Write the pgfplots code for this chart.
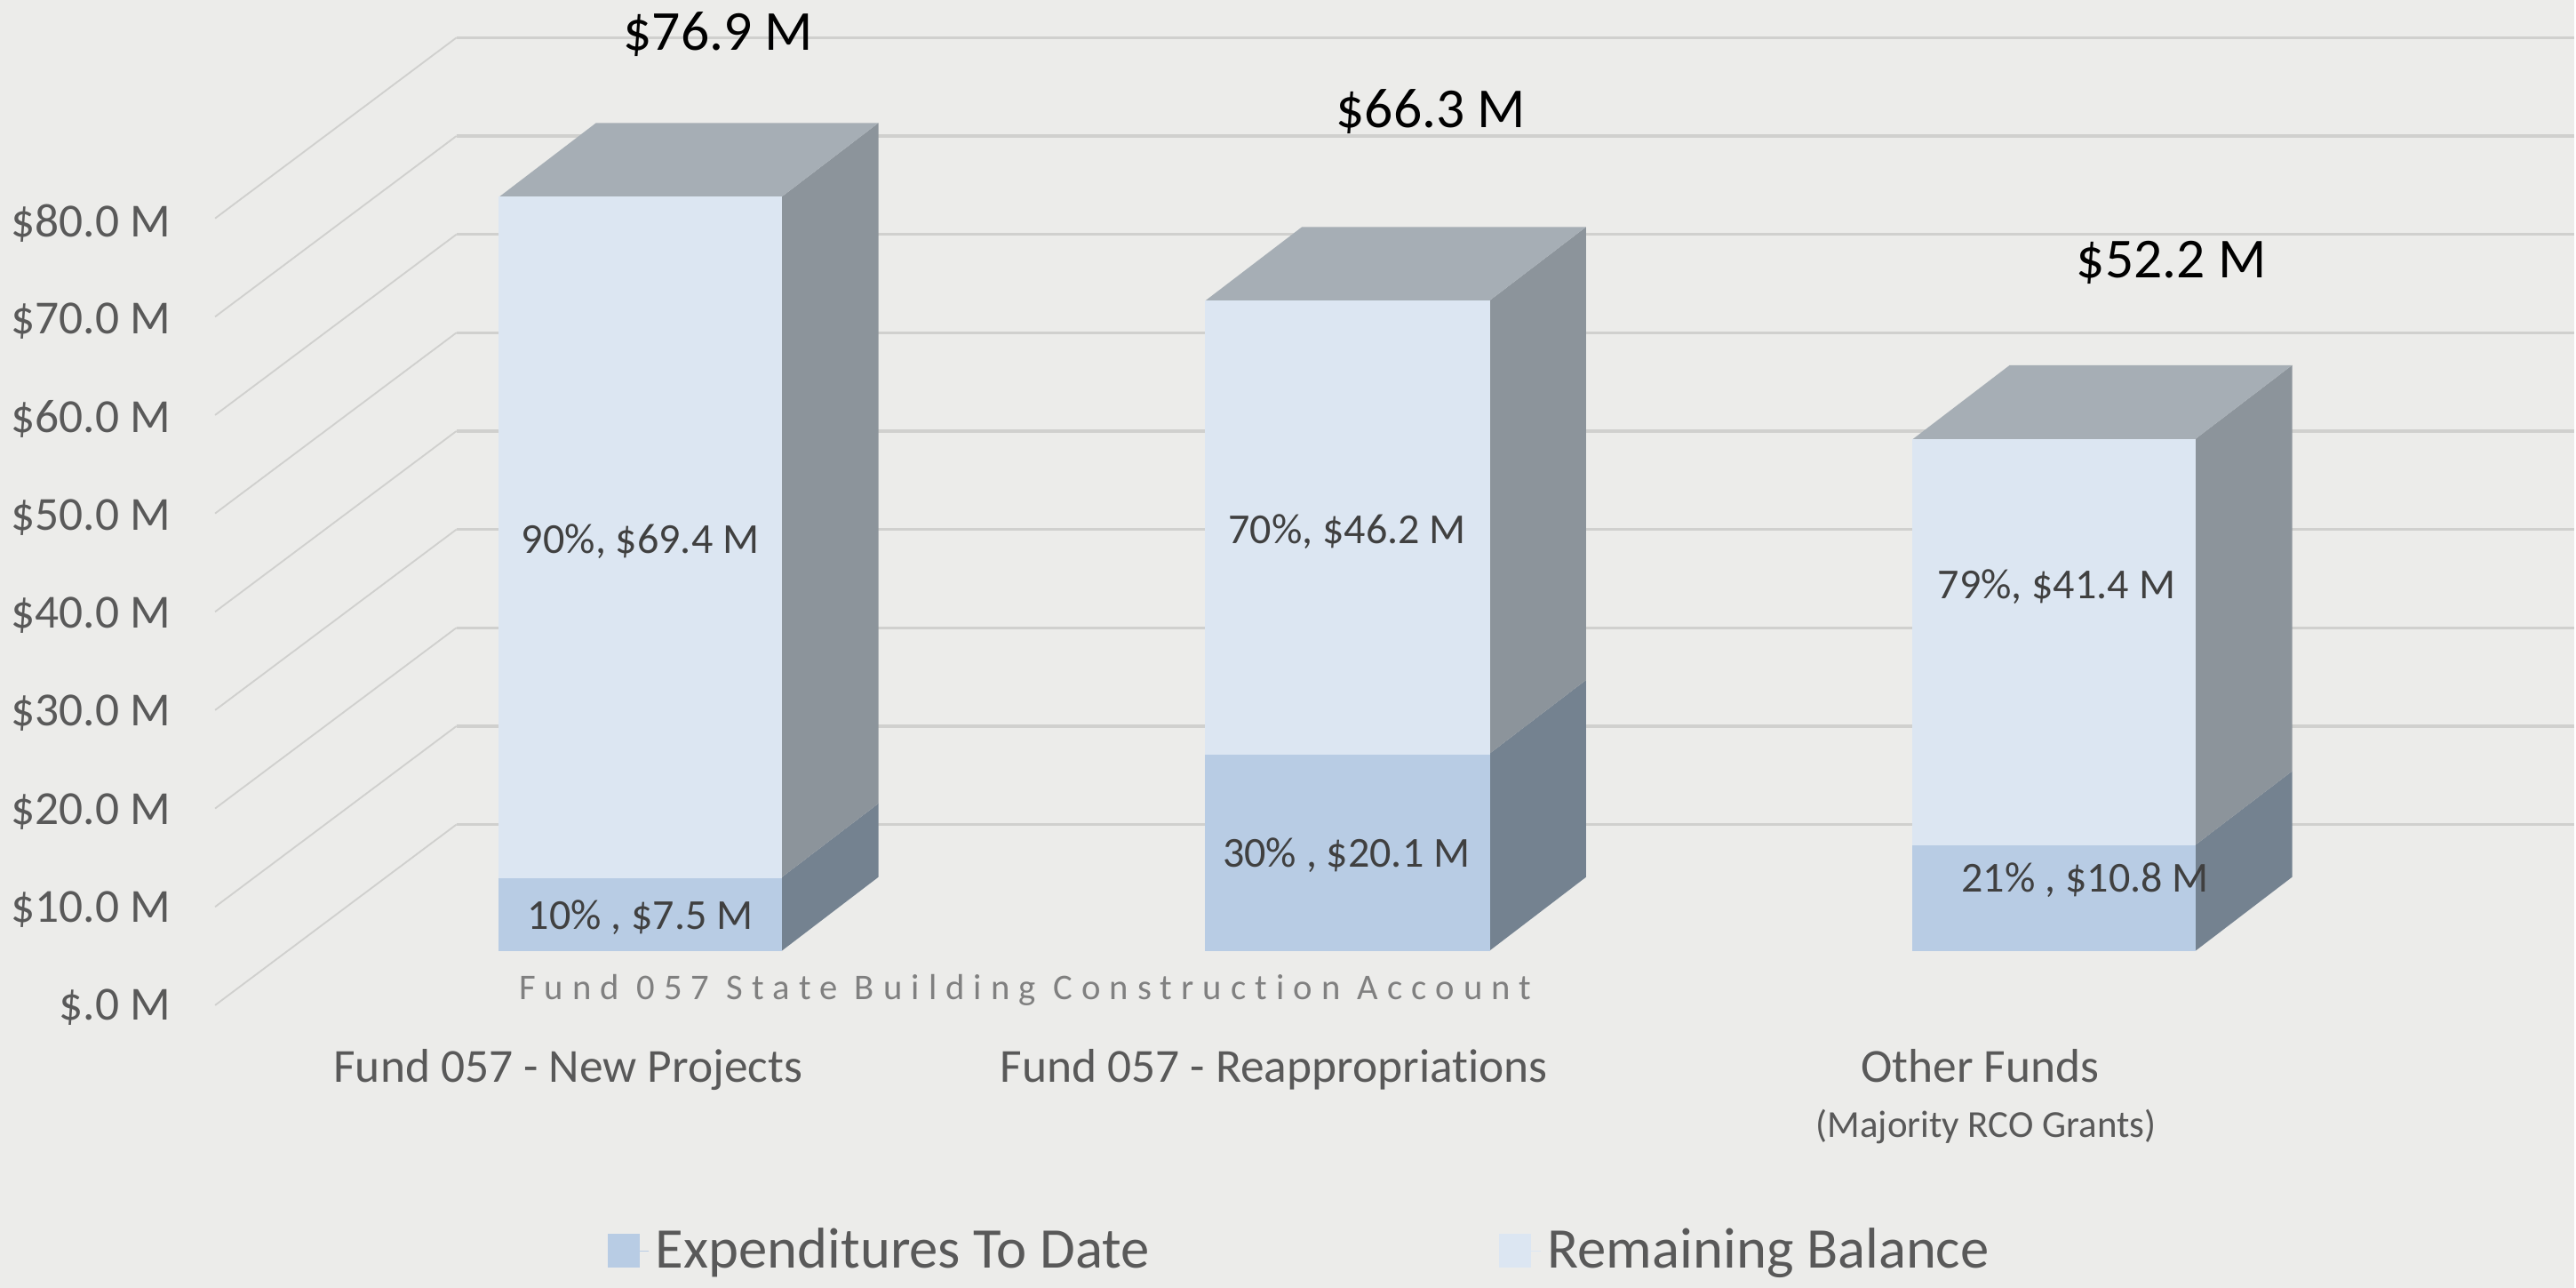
\documentclass[border=0pt]{standalone}
\usepackage{fontspec}
\setmainfont{Carlito}[Ligatures=NoCommon]
\usepackage{pgfplots}
\pgfplotsset{compat=1.18}
\definecolor{bgc}{HTML}{ECECEA}
\definecolor{gridc}{HTML}{D0D0CE}
\definecolor{expf}{HTML}{B8CCE4}
\definecolor{remf}{HTML}{DCE6F2}
\definecolor{exps}{HTML}{748290}
\definecolor{rems}{HTML}{8C949B}
\definecolor{topc}{HTML}{A6AEB5}
\definecolor{tickc}{HTML}{595959}
\definecolor{datac}{HTML}{404040}
\pgfplotsset{
  hl/.style={forget plot,gridc,line width=0.9pt},
  sl/.style={forget plot,gridc,line width=0.5pt},
  fc/.style={fill=#1,draw=#1,line width=0.2pt},
  sf/.style={forget plot,fill=#1,draw=none},
}
\begin{document}
\begin{tikzpicture}
\begin{axis}[
  scale only axis,width=784pt,height=392pt,
  xmin=0,xmax=1568,ymin=-34.34,ymax=96.98,
  clip=false,
  axis background/.style={fill=bgc},
  axis line style={draw=none},
  tick style={draw=none},major tick length=0pt,
  ytick={0,10,20,30,40,50,60,70,80},
  yticklabels={\$.0 M,\$10.0 M,\$20.0 M,\$30.0 M,\$40.0 M,\$50.0 M,\$60.0 M,\$70.0 M,\$80.0 M},
  yticklabel style={font=\fontsize{14.45}{16}\selectfont,text=tickc,anchor=east,xshift=52pt,yshift=-17.2pt,inner sep=0pt,outer sep=0pt},
  xtick={346,776,1206},
  xticklabels={Fund 057 - New Projects,Fund 057 - Reappropriations,Other Funds},
  xticklabel style={font=\fontsize{14.45}{16}\selectfont,text=tickc,anchor=base,yshift=62.5pt,inner sep=0pt,outer sep=0pt},
  legend columns=2,
  legend style={at={(370/1568,22.5/784)},anchor=west,draw=none,fill=none,inner sep=0pt,outer sep=0pt,
    font=\fontsize{17.5}{20}\selectfont,text=tickc,
    /tikz/every even column/.append style={column sep=104.5pt}},
  legend image code/.code={\fill[#1] (0pt,-5pt) rectangle (9.5pt,5pt);\path (0pt,0pt) -- (12.5pt,0pt);},
  legend cell align=left,
]
% depth gridlines (value axis wall)
\addplot[sl] coordinates {(131,-5.53) (278,12.90)};
\addplot[sl] coordinates {(131,4.50) (278,22.93)};
\addplot[sl] coordinates {(131,14.53) (278,32.96)};
\addplot[sl] coordinates {(131,24.56) (278,42.99)};
\addplot[sl] coordinates {(131,34.59) (278,53.02)};
\addplot[sl] coordinates {(131,44.62) (278,63.05)};
\addplot[sl] coordinates {(131,54.65) (278,73.08)};
\addplot[sl] coordinates {(131,64.68) (278,83.11)};
\addplot[sl] coordinates {(131,74.71) (278,93.14)};
\addplot[hl] coordinates {(278,12.90) (1568,12.90)};
\addplot[hl] coordinates {(278,22.93) (1568,22.93)};
\addplot[hl] coordinates {(278,32.96) (1568,32.96)};
\addplot[hl] coordinates {(278,42.99) (1568,42.99)};
\addplot[hl] coordinates {(278,53.02) (1568,53.02)};
\addplot[hl] coordinates {(278,63.05) (1568,63.05)};
\addplot[hl] coordinates {(278,73.08) (1568,73.08)};
\addplot[hl] coordinates {(278,83.11) (1568,83.11)};
\addplot[hl] coordinates {(278,93.14) (1568,93.14)};
% bar 1
\addplot[sf=exps] coordinates {(476,0) (535,7.54) (535,15.04) (476,7.5)} --cycle;
\addplot[sf=rems] coordinates {(476,7.5) (535,15.04) (535,84.44) (476,76.9)} --cycle;
\addplot[sf=topc] coordinates {(304,76.9) (476,76.9) (535,84.44) (363,84.44)} --cycle;
\addplot[fc=expf] coordinates {(304,0) (476,0) (476,7.5) (304,7.5)} --cycle;
\addlegendentry{Expenditures To Date}
\addplot[fc=remf] coordinates {(304,7.5) (476,7.5) (476,76.9) (304,76.9)} --cycle;
\addlegendentry{Remaining Balance}
% bar 2
\addplot[sf=exps] coordinates {(907,0) (966,7.54) (966,27.64) (907,20.1)} --cycle;
\addplot[sf=rems] coordinates {(907,20.1) (966,27.64) (966,73.84) (907,66.3)} --cycle;
\addplot[sf=topc] coordinates {(734,66.3) (907,66.3) (966,73.84) (793,73.84)} --cycle;
\addplot[forget plot,fc=expf] coordinates {(734,0) (907,0) (907,20.1) (734,20.1)} --cycle;
\addplot[forget plot,fc=remf] coordinates {(734,20.1) (907,20.1) (907,66.3) (734,66.3)} --cycle;
% bar 3
\addplot[sf=exps] coordinates {(1337,0) (1396,7.54) (1396,18.34) (1337,10.8)} --cycle;
\addplot[sf=rems] coordinates {(1337,10.8) (1396,18.34) (1396,59.74) (1337,52.2)} --cycle;
\addplot[sf=topc] coordinates {(1165,52.2) (1337,52.2) (1396,59.74) (1224,59.74)} --cycle;
\addplot[forget plot,fc=expf] coordinates {(1165,0) (1337,0) (1337,10.8) (1165,10.8)} --cycle;
\addplot[forget plot,fc=remf] coordinates {(1165,10.8) (1337,10.8) (1337,52.2) (1165,52.2)} --cycle;
% data labels
\begin{scope}[every node/.style={font=\fontsize{13}{15}\selectfont,text=datac,inner sep=0pt}]
\node at (axis cs:390,41.8) {90\%, \$69.4 M};
\node at (axis cs:390,3.37) {10\% , \$7.5 M};
\node at (axis cs:820.5,42.72) {70\%, \$46.2 M};
\node at (axis cs:820,9.72) {30\% , \$20.1 M};
\node at (axis cs:1252.5,37.17) {79\%, \$41.4 M};
\node at (axis cs:1270,7.21) {21\% , \$10.8 M};
\end{scope}
\begin{scope}[every node/.style={font=\fontsize{17.2}{20}\selectfont,text=black,inner sep=0pt}]
\node at (axis cs:437.5,93.47) {\$76.9 M};
\node at (axis cs:871.5,85.57) {\$66.3 M};
\node at (axis cs:1322.5,70.17) {\$52.2 M};
\end{scope}
\node[inner sep=0pt,text=gray,font=\fontsize{11}{13}\selectfont\addfontfeatures{LetterSpace=24.9}] at (axis cs:624.5,-4.02) {Fund 057 State Building Construction Account};
\node[inner sep=0pt,text=tickc,font=\fontsize{11.6}{13}\selectfont] at (axis cs:1209.5,-17.93) {(Majority RCO Grants)};
\end{axis}
\end{tikzpicture}
\end{document}
